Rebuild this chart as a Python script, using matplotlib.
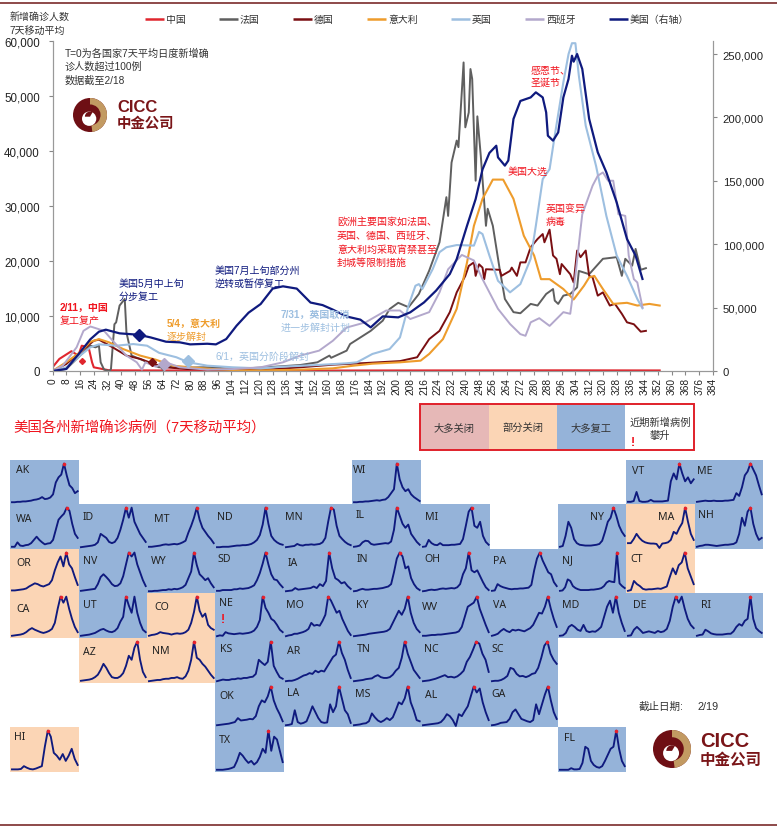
import matplotlib
matplotlib.use("Agg")
import matplotlib.pyplot as plt
from matplotlib.patches import Rectangle, Wedge, Circle
from matplotlib.ticker import FuncFormatter

plt.rcParams["font.family"] = ["Liberation Sans", "Noto Sans CJK SC"]

W, H = 777, 828

# 主图数据：天数 + 7天平均新增（美国为右轴）
CHINA_X = [0, 4, 11, 15, 17, 21, 23, 24, 33, 60, 120, 200, 300, 353]
CHINA_Y = [670, 2200, 3600, 2800, 4600, 4300, 1580, 670, 120, 100, 60, 100, 120, 100]

FRANCE_X = [0, 8, 16, 22, 25, 27, 28, 30, 33, 34, 36, 37, 39, 42, 43, 46, 53, 57, 62, 66, 72, 86, 93, 105, 124, 144,
            154, 161, 162, 171, 173, 179, 185, 192, 196, 201, 207, 213, 219, 225, 229, 230, 232, 235, 236, 239, 240,
            242, 243, 244, 246, 247, 249, 252, 253, 256, 260, 263, 268, 272, 278, 282, 287, 291, 292, 294, 297, 301,
            305, 306, 312, 320, 328, 331, 333, 337, 339, 342, 345]
FRANCE_Y = [0, 360, 2800, 4600, 4300, 4600, 1580, 240, 0, 360, 8500, 8850, 11900, 13100, 7000, 2800, 1900, 1270, 670,
            970, 550, 670, 670, 360, 670, 1090, 1580, 2800, 2400, 3700, 4900, 6100, 7300, 9150, 11270, 12400, 11600,
            14000, 18250, 23400, 31600, 28200, 37900, 41900, 40700, 56100, 44300, 47000, 54900, 53100, 34600, 46300,
            39100, 26400, 29500, 26400, 18500, 13100, 10700, 10500, 12200, 11900, 14000, 14900, 12800, 12200, 13700,
            14000, 15200, 18200, 17600, 20400, 20700, 17300, 20400, 19150, 22200, 18400, 18700]

GERMANY_X = [0, 8, 16, 24, 27, 35, 43, 51, 59, 66, 78, 105, 124, 144, 163, 182, 202, 212, 219, 225, 231, 235, 240, 242,
             245, 246, 248, 250, 251, 252, 260, 261, 266, 267, 270, 272, 275, 278, 282, 285, 286, 289, 291, 293, 295,
             296, 301, 303, 305, 307, 310, 312, 314, 317, 320, 324, 327, 331, 334, 338, 342, 345]
GERMANY_Y = [0, 1270, 3400, 5500, 5700, 4300, 2800, 2200, 1270, 670, 360, 240, 240, 670, 1150, 1450, 1800, 2500, 5800,
             7300, 10700, 14300, 17300, 19100, 19750, 17300, 19400, 18800, 16700, 18500, 18400, 17300, 18200, 18800,
             17300, 19750, 19750, 22500, 24000, 24900, 23400, 25700, 21000, 20400, 17600, 19450, 17600, 16100, 21900,
             20700, 21900, 17300, 17000, 13700, 14300, 11900, 12200, 10400, 8850, 8500, 7150, 7300]

ITALY_X = [0, 8, 16, 22, 27, 33, 41, 51, 60, 70, 80, 93, 109, 124, 144, 163, 175, 186, 202, 214, 219, 227, 235, 241,
           245, 250, 256, 262, 268, 274, 280, 284, 289, 297, 303, 309, 312, 315, 320, 326, 334, 340, 347, 353]
ITALY_Y = [0, 1600, 3400, 5300, 5800, 5200, 4000, 2800, 2060, 970, 670, 360, 120, 120, 240, 480, 970, 1330, 1580, 1880,
           3100, 5800, 11300, 19750, 26400, 31300, 34800, 34800, 31300, 24600, 21000, 16700, 16700, 14900, 13000,
           15500, 17000, 17300, 14900, 12200, 12400, 11900, 12200, 11900]

UK_X = [0, 8, 16, 22, 27, 37, 47, 55, 62, 72, 79, 90, 105, 121, 134, 154, 171, 177, 186, 196, 202, 207, 211, 213, 215,
        221, 225, 229, 235, 245, 248, 250, 254, 259, 266, 272, 278, 281, 285, 289, 292, 297, 300, 302, 304, 306, 310,
        316, 322, 328, 334, 340, 343]
UK_Y = [0, 670, 2800, 4300, 4850, 4600, 4900, 4600, 3300, 2500, 1580, 970, 670, 480, 790, 1090, 1400, 1580, 3100, 4000,
        6100, 11900, 15500, 15800, 14900, 18500, 21600, 22500, 22900, 22800, 25300, 24900, 21000, 16400, 14300, 15800,
        20400, 26400, 34900, 36700, 42800, 52500, 57600, 59600, 59600, 53700, 44600, 37300, 28200, 21000, 17300, 13100,
        11400]

SPAIN_X = [0, 6, 14, 18, 22, 30, 35, 43, 49, 52, 54, 60, 66, 74, 90, 105, 121, 134, 144, 155, 163, 171, 182, 194, 202,
           208, 219, 225, 230, 238, 245, 250, 254, 259, 266, 272, 275, 278, 283, 289, 297, 301, 304, 307, 308, 314, 317,
           320, 323, 326, 329, 333, 335, 338, 340, 343]
SPAIN_Y = [0, 970, 4300, 7300, 8100, 7300, 5500, 2800, 1580, 240, 1580, 790, 1580, 670, 240, 360, 670, 1580, 2800, 3700,
           5500, 7900, 8850, 11000, 11000, 9450, 10700, 14300, 18500, 21100, 20100, 16700, 14300, 11300, 8550, 6700,
           6400, 8850, 9600, 8200, 10700, 10400, 17300, 25800, 28500, 33700, 35500, 36100, 34600, 34600, 28500, 28200,
           21000, 16700, 16100, 11600]

US_X = [0, 8, 16, 22, 27, 31, 39, 50, 57, 66, 74, 80, 90, 95, 101, 107, 114, 121, 128, 134, 142, 150, 157, 163, 171,
        179, 185, 192, 201, 208, 216, 223, 231, 235, 241, 246, 250, 254, 258, 259, 263, 265, 268, 272, 278, 281, 285,
        287, 288, 291, 294, 297, 300, 302, 303, 305, 308, 312, 317, 322, 328, 334, 339, 343]
US_Y = [0, 1600, 14700, 25000, 31000, 32600, 29700, 28600, 26500, 23100, 22600, 21000, 21500, 21000, 25200, 35700,
        46000, 52800, 65000, 66800, 65000, 54000, 52000, 48400, 43000, 40500, 34400, 43100, 42300, 46300, 54100, 63400,
        76500, 88300, 114600, 135600, 159000, 172000, 177700, 168500, 162000, 166000, 198800, 213000, 215800, 219800,
        215800, 204000, 185600, 181700, 188200, 215800, 230300, 248700, 244000, 250000, 238200, 198800, 172500, 156700,
        133000, 104100, 91000, 72600]

# 各国解封节点（菱形）
CHINA_MARK = ([17], [1800])
GERMANY_MARK = ([58], [1640])
FRANCE_MARK = ([64], [670])
SPAIN_MARK = ([65], [1270])
UK_MARK = ([79], [1800])
US_MARK = ([50], [28400])

# 各州曲线（峰值=100）
AK = [2, 2, 3, 3, 4, 4, 5, 6, 8, 9, 11, 15, 10, 11, 14, 22, 52, 65, 72, 100, 70, 45, 38, 25, 30]
WA = [3, 3, 14, 6, 5, 7, 8, 12, 20, 28, 20, 14, 9, 11, 12, 20, 45, 70, 78, 85, 100, 92, 60, 35, 25]
ID = [2, 3, 4, 5, 6, 8, 14, 35, 30, 25, 15, 12, 15, 25, 45, 70, 100, 75, 100, 65, 50, 35, 25, 15]
MT = [3, 3, 4, 5, 6, 8, 9, 8, 9, 10, 9, 11, 14, 18, 38, 55, 75, 100, 70, 50, 40, 30, 22, 12]
ND = [2, 2, 3, 3, 3, 4, 5, 6, 6, 7, 7, 8, 10, 14, 20, 32, 58, 100, 60, 30, 20, 14, 10, 8]
OR = [4, 4, 5, 6, 7, 9, 14, 18, 22, 20, 16, 14, 17, 20, 30, 55, 75, 90, 65, 100, 70, 60, 38, 18]
NV = [3, 4, 5, 6, 7, 8, 20, 38, 45, 38, 30, 20, 15, 16, 22, 40, 70, 100, 90, 100, 70, 50, 30, 15]
WY = [2, 2, 3, 3, 4, 5, 5, 7, 6, 8, 7, 9, 12, 18, 35, 52, 100, 68, 45, 38, 30, 35, 22, 12]
SD = [3, 3, 5, 5, 5, 5, 7, 7, 9, 8, 9, 10, 13, 17, 30, 48, 72, 100, 70, 45, 32, 30, 20, 12]
CA = [3, 4, 5, 6, 8, 12, 18, 22, 18, 15, 12, 10, 12, 15, 20, 35, 70, 100, 85, 100, 70, 45, 25, 12]
UT = [3, 4, 5, 6, 8, 10, 14, 18, 20, 16, 13, 12, 15, 22, 38, 50, 100, 78, 60, 100, 60, 35, 18, 12]
CO = [3, 5, 6, 8, 12, 10, 9, 8, 6, 8, 9, 8, 9, 12, 18, 35, 62, 100, 65, 50, 58, 30, 22, 18]
NE = [2, 4, 3, 12, 9, 8, 7, 8, 9, 8, 9, 10, 12, 16, 25, 42, 100, 72, 60, 45, 40, 30, 18, 12]
MN = [2, 3, 4, 5, 10, 7, 6, 8, 8, 9, 8, 9, 10, 14, 25, 65, 100, 95, 55, 30, 22, 15, 10, 7]
IL = [3, 4, 6, 14, 18, 17, 10, 8, 9, 10, 11, 12, 11, 16, 45, 100, 80, 60, 50, 58, 35, 25, 15, 8]
MI = [3, 4, 20, 12, 8, 7, 12, 7, 7, 7, 8, 8, 9, 10, 22, 55, 90, 100, 55, 50, 65, 30, 15, 8]
WI = [2, 2, 3, 3, 4, 4, 5, 6, 7, 6, 8, 9, 15, 25, 35, 100, 60, 40, 30, 35, 22, 15, 10, 5]
IA = [2, 3, 4, 10, 6, 7, 8, 9, 10, 14, 10, 20, 15, 28, 100, 60, 35, 30, 22, 25, 15, 8]
IN = [2, 3, 6, 8, 6, 6, 7, 8, 8, 9, 10, 12, 14, 20, 50, 85, 100, 90, 60, 65, 35, 20, 10, 5]
OH = [2, 3, 5, 6, 5, 6, 8, 9, 8, 9, 10, 9, 12, 20, 45, 60, 100, 55, 50, 55, 40, 25, 12, 5]
PA = [3, 4, 20, 15, 12, 10, 8, 7, 8, 8, 9, 9, 10, 11, 18, 55, 85, 100, 80, 65, 50, 45, 25, 15]
MO = [2, 4, 5, 8, 8, 10, 12, 15, 20, 35, 28, 30, 28, 40, 55, 100, 90, 75, 60, 65, 45, 30, 15, 5]
KY = [2, 3, 4, 5, 6, 8, 9, 10, 11, 12, 13, 15, 20, 35, 50, 65, 55, 70, 100, 60, 35, 20, 12]
WV = [3, 3, 4, 5, 5, 6, 6, 7, 8, 9, 10, 11, 14, 25, 50, 75, 80, 85, 100, 70, 50, 30, 12]
VA = [3, 5, 8, 15, 20, 15, 12, 18, 16, 18, 16, 14, 18, 22, 30, 45, 60, 58, 75, 100, 70, 45, 25]
NY = [3, 5, 30, 65, 50, 22, 12, 8, 7, 6, 6, 6, 7, 8, 10, 18, 40, 65, 75, 100, 80, 55, 40, 30]
MA = [12, 12, 22, 35, 25, 18, 14, 12, 11, 11, 10, 0, 11, 12, 14, 20, 40, 35, 50, 62, 100, 65, 35, 20]
CT = [3, 5, 28, 20, 15, 8, 6, 7, 7, 8, 9, 8, 11, 14, 38, 60, 45, 68, 75, 100, 60, 40, 20]
NH = [3, 5, 6, 8, 8, 7, 6, 5, 6, 7, 8, 8, 9, 10, 14, 35, 75, 55, 90, 100, 60, 35, 20, 25]
VT = [3, 3, 5, 28, 5, 3, 3, 4, 8, 4, 4, 4, 4, 5, 6, 55, 75, 60, 100, 75, 55, 65, 50, 60]
ME = [3, 4, 5, 6, 5, 5, 6, 5, 5, 5, 6, 6, 7, 8, 25, 18, 40, 70, 80, 100, 85, 70, 45, 22]
NJ = [3, 4, 12, 32, 28, 15, 10, 7, 5, 5, 5, 5, 6, 6, 7, 8, 10, 15, 24, 28, 26, 25, 100, 22, 15, 10]
MD = [3, 4, 10, 25, 30, 25, 18, 15, 30, 15, 12, 14, 13, 18, 25, 50, 75, 90, 60, 100, 60, 35, 15]
DE = [3, 4, 18, 25, 18, 10, 12, 14, 12, 10, 15, 12, 14, 20, 40, 75, 100, 85, 100, 70, 45, 30, 22]
RI = [3, 5, 6, 18, 14, 9, 7, 6, 6, 6, 7, 8, 8, 14, 25, 32, 28, 40, 45, 100, 45, 22, 15, 10]
AZ = [3, 4, 5, 6, 8, 12, 18, 30, 45, 35, 22, 12, 10, 10, 14, 22, 40, 65, 55, 85, 100, 55, 25, 12]
NM = [2, 3, 4, 5, 5, 7, 8, 8, 10, 10, 12, 9, 8, 14, 28, 55, 100, 60, 55, 45, 38, 28, 18, 10]
KS = [2, 4, 6, 5, 5, 7, 7, 9, 8, 10, 10, 12, 13, 20, 55, 48, 42, 50, 100, 40, 25, 12, 8]
AR = [2, 3, 3, 5, 8, 12, 16, 18, 22, 20, 28, 24, 28, 26, 38, 50, 62, 68, 100, 72, 55, 30, 10]
TN = [2, 3, 4, 5, 7, 8, 9, 14, 17, 12, 10, 10, 12, 18, 28, 35, 60, 100, 70, 50, 30, 20, 10]
NC = [2, 3, 4, 6, 8, 11, 14, 17, 12, 13, 11, 14, 20, 28, 50, 62, 80, 100, 95, 70, 55, 25]
SC = [2, 3, 3, 5, 9, 15, 35, 32, 20, 14, 15, 12, 15, 20, 22, 35, 60, 90, 100, 70, 55, 45]
OK = [2, 3, 4, 5, 6, 8, 10, 20, 14, 15, 16, 18, 17, 25, 50, 65, 60, 75, 100, 65, 45, 30, 12]
LA = [2, 3, 5, 40, 10, 6, 8, 12, 30, 50, 35, 20, 10, 8, 9, 55, 35, 50, 100, 70, 40, 30, 8]
MS = [2, 3, 4, 6, 7, 12, 32, 22, 14, 10, 14, 20, 15, 22, 40, 60, 55, 70, 100, 60, 40, 15, 12]
AL = [2, 3, 4, 5, 6, 7, 10, 18, 30, 25, 15, 0, 30, 25, 38, 50, 75, 100, 85, 95, 60, 35, 15]
GA = [2, 3, 5, 8, 9, 10, 18, 35, 42, 30, 18, 15, 12, 10, 15, 55, 30, 55, 80, 100, 65, 35, 18]
TX = [3, 3, 3, 4, 5, 7, 10, 25, 45, 38, 28, 20, 25, 16, 22, 35, 55, 45, 100, 50, 85, 78, 50, 22]
HI = [4, 4, 4, 5, 12, 8, 5, 4, 6, 9, 12, 60, 100, 85, 45, 38, 28, 42, 25, 38, 55, 30, 15]
FL = [3, 3, 3, 3, 7, 4, 4, 5, 20, 60, 55, 25, 15, 10, 8, 12, 25, 40, 55, 60, 100, 55, 25, 12]

BLUE = "#95b3d9"
PEACH = "#fbd5b5"
PINK = "#e6b8b7"
RED = "#f0141e"
NAVY = "#0f1a7e"
ORANGE = "#ee9c2c"
LBLUE = "#9dbfe0"
LILAC = "#b3a8cc"
DRED = "#7a0f12"
GRAY = "#5f5f5f"
LOGO_RED = "#6e0f14"
LOGO_TAN = "#c29a62"

COLS = [10, 79, 147, 215, 284, 352, 421, 490, 558, 626, 695, 763]
ROWS = [461, 505, 550, 594, 639, 684, 728, 773]

# 名称, 曲线, 列, 行, 标签dx, 标签dy, 底色
PANELS = [
    ("AK", AK, 0, 0, 6, 10, BLUE), ("WI", WI, 5, 0, 1, 10, BLUE), ("VT", VT, 9, 0, 6, 11, BLUE),
    ("ME", ME, 10, 0, 2, 11, BLUE),
    ("WA", WA, 0, 1, 6, 14, BLUE), ("ID", ID, 1, 1, 4, 13, BLUE), ("MT", MT, 2, 1, 7, 15, BLUE),
    ("ND", ND, 3, 1, 2, 12, BLUE), ("MN", MN, 4, 1, 1, 13, BLUE), ("IL", IL, 5, 1, 4, 11, BLUE),
    ("MI", MI, 6, 1, 4, 13, BLUE), ("NY", NY, 8, 1, 32, 13, BLUE), ("MA", MA, 9, 1, 32, 12, PEACH),
    ("NH", NH, 10, 1, 3, 11, BLUE),
    ("OR", OR, 0, 2, 6, 14, PEACH), ("NV", NV, 1, 2, 4, 11, BLUE), ("WY", WY, 2, 2, 4, 12, BLUE),
    ("SD", SD, 3, 2, 3, 10, BLUE), ("IA", IA, 4, 2, 4, 13, BLUE), ("IN", IN, 5, 2, 5, 10, BLUE),
    ("OH", OH, 6, 2, 3, 10, BLUE), ("PA", PA, 7, 2, 3, 12, BLUE), ("NJ", NJ, 8, 2, 4, 11, BLUE),
    ("CT", CT, 9, 2, 4, 10, PEACH),
    ("CA", CA, 0, 3, 6, 16, PEACH), ("UT", UT, 1, 3, 4, 12, BLUE), ("CO", CO, 2, 3, 7, 14, PEACH),
    ("NE", NE, 3, 3, 4, 10, BLUE), ("MO", MO, 4, 3, 2, 11, BLUE), ("KY", KY, 5, 3, 4, 11, BLUE),
    ("WV", WV, 6, 3, 1, 14, BLUE), ("VA", VA, 7, 3, 3, 11, BLUE), ("MD", MD, 8, 3, 4, 12, BLUE),
    ("DE", DE, 9, 3, 7, 12, BLUE), ("RI", RI, 10, 3, 6, 12, BLUE),
    ("AZ", AZ, 1, 4, 4, 14, PEACH), ("NM", NM, 2, 4, 5, 12, PEACH), ("KS", KS, 3, 4, 5, 10, BLUE),
    ("AR", AR, 4, 4, 3, 12, BLUE), ("TN", TN, 5, 4, 5, 10, BLUE), ("NC", NC, 6, 4, 3, 11, BLUE),
    ("SC", SC, 7, 4, 1, 11, BLUE),
    ("OK", OK, 3, 5, 4, 13, BLUE), ("LA", LA, 4, 5, 3, 10, BLUE), ("MS", MS, 5, 5, 3, 11, BLUE),
    ("AL", AL, 6, 5, 4, 12, BLUE), ("GA", GA, 7, 5, 1, 11, BLUE),
    ("HI", HI, 0, 6, 4, 10, PEACH), ("TX", TX, 3, 6, 4, 13, BLUE), ("FL", FL, 8, 6, 6, 11, BLUE),
]


def box(left, top, right, bottom):
    return [left / W, 1 - bottom / H, (right - left) / W, (bottom - top) / H]


def label(x, y, s, size=7.2, color="#333333", ha="left", **kw):
    fig.text(x / W, 1 - y / H, s, fontsize=size, color=color, ha=ha, va="center", **kw)


def logo(x, y, r, tx, ty1, ty2, s1, s2):
    ov.add_patch(Circle((x, y), r, color=LOGO_RED, lw=0))
    ov.add_patch(Wedge((x, y), r, -90, 82, color=LOGO_TAN, lw=0))
    ov.add_patch(Wedge((x, y), r * 0.62, -90, 82, color=LOGO_RED, lw=0))
    ov.add_patch(Circle((x - r * 0.05, y + r * 0.22), r * 0.42, color="white", lw=0))
    ov.add_patch(Wedge((x, y + r * 0.1), r * 0.3, 180, 300, color=LOGO_RED, lw=0))
    label(tx, ty1, "CICC", size=s1, color="#7a1518", fontweight="bold")
    label(tx, ty2, "中金公司", size=s2, color="#7a1518", fontweight="bold")


fig = plt.figure(figsize=(W / 100, H / 100), dpi=100, facecolor="white")

# 主图
ax = fig.add_axes(box(52.5, 42, 713, 372))
ax.patch.set_visible(False)
ax.plot(CHINA_X, CHINA_Y, color="#e0262e", lw=1.5)
ax.plot(FRANCE_X, FRANCE_Y, color=GRAY, lw=1.4)
ax.plot(GERMANY_X, GERMANY_Y, color=DRED, lw=1.4)
ax.plot(ITALY_X, ITALY_Y, color=ORANGE, lw=1.5)
ax.plot(UK_X, UK_Y, color=LBLUE, lw=1.5)
ax.plot(SPAIN_X, SPAIN_Y, color=LILAC, lw=1.4)
ax.plot(*CHINA_MARK, "D", color="#e0262e", ms=3)
ax.plot(*GERMANY_MARK, "D", color=DRED, ms=4.5)
ax.plot(*FRANCE_MARK, "D", color=GRAY, ms=3)
ax.plot(*SPAIN_MARK, "D", color=LILAC, ms=6)
ax.plot(*UK_MARK, "D", color=LBLUE, ms=6)
ax.set_xlim(0, 384)
ax.set_ylim(0, 60000)
ax.set_xticks(range(0, 385, 8))
ax.set_yticks(range(0, 60001, 10000))
ax.yaxis.set_major_formatter(FuncFormatter(lambda v, _: f"{int(v):,}"))
ax.tick_params(axis="y", labelsize=8.3, length=3, color="#888888", pad=6, labelcolor="#222222")
ax.tick_params(axis="x", labelsize=7.3, length=3, color="#888888", pad=1.5, labelrotation=90, labelcolor="#222222")

ax2 = ax.twinx()
ax2.plot(US_X, US_Y, color=NAVY, lw=1.6)
ax2.plot(*US_MARK, "D", color=NAVY, ms=6)
ax2.set_ylim(0, 260300)
ax2.set_yticks(range(0, 250001, 50000))
ax2.yaxis.set_major_formatter(FuncFormatter(lambda v, _: f"{int(v):,}"))
ax2.tick_params(axis="y", labelsize=8.1, length=3, color="#888888", pad=4, labelcolor="#222222")
for a in (ax, ax2):
    a.spines["top"].set_visible(False)
    for s in ("left", "right", "bottom"):
        a.spines[s].set_color("#999999")
        a.spines[s].set_linewidth(0.8)

# 覆盖层，坐标就是像素
ov = fig.add_axes([0, 0, 1, 1], zorder=1)
ov.set_xlim(0, W)
ov.set_ylim(H, 0)
ov.axis("off")
ov.plot([0, W], [4, 4], color="#7a2a2a", lw=1.2)
ov.plot([0, W], [826.5, 826.5], color="#7a2a2a", lw=1.2)

legend_items = [("中国", "#e0262e", 145), ("法国", GRAY, 219), ("德国", DRED, 293), ("意大利", ORANGE, 367),
                ("英国", LBLUE, 451), ("西班牙", LILAC, 525), ("美国（右轴）", NAVY, 609)]
for name, c, x0 in legend_items:
    ov.plot([x0, x0 + 19], [19.5, 19.5], color=c, lw=1.8, solid_capstyle="butt")
    label(x0 + 21, 19.5, name, size=7.1)
label(10, 17, "新增确诊人数", size=7.2)
label(10, 31, "7天移动平均", size=7.2)

label(65, 54, "T=0为各国家7天平均日度新增确", size=7.3)
label(65, 67, "诊人数超过100例", size=7.3)
label(65, 81, "数据截至2/18", size=7.3)

label(531, 71, "感恩节、", color=RED)
label(531, 83, "圣诞节", color=RED)
label(508, 172, "美国大选", color=RED)
label(545.5, 209, "英国变异", color=RED)
label(545.5, 222, "病毒", color=RED)
label(337, 223, "欧洲主要国家如法国、", color=RED)
label(337, 236, "英国、德国、西班牙、", color=RED)
label(337, 250, "意大利均采取宵禁甚至", color=RED)
label(337, 263, "封城等限制措施", color=RED)
label(60, 308, "2/11，中国", color=RED, fontweight="bold")
label(60, 321, "复工复产", color=RED)
label(119, 284, "美国5月中上旬", color=NAVY)
label(119, 297, "分步复工", color=NAVY)
label(215, 271, "美国7月上旬部分州", color=NAVY)
label(215, 284, "逆转或暂停复工", color=NAVY)
label(167, 324, "5/4，意大利", color=ORANGE, fontweight="bold")
label(167, 337, "逐步解封", color=ORANGE)
label(281, 315, "7/31，英国取消", color=LBLUE, fontweight="bold")
label(281, 328, "进一步解封计划", color=LBLUE)
label(215, 357, "6/1，英国分阶段解封", color=LBLUE)

logo(90, 116, 17, 117, 108, 124, 12, 10.4)
logo(672, 750, 19, 700, 742, 760, 14.5, 11.2)

# 分区标题和图例框
label(13, 429, "美国各州新增确诊病例（7天移动平均）", size=10.4, color=RED)
for x0, x1, c in [(420, 489, PINK), (489, 557, PEACH), (557, 625, BLUE), (625, 694, "white")]:
    ov.add_patch(Rectangle((x0, 405), x1 - x0, 46, facecolor=c, edgecolor="none"))
ov.add_patch(Rectangle((420, 405), 274, 46, facecolor="none", edgecolor="#e0202a", lw=1.4))
label(454, 429, "大多关闭", size=7.4, ha="center")
label(523, 429, "部分关闭", size=7.4, ha="center")
label(591, 429, "大多复工", size=7.4, ha="center")
label(660, 423, "近期新增病例", size=7.4, ha="center")
label(660, 436, "攀升", size=7.4, ha="center")
label(632.5, 443, "!", size=9, color=RED, ha="center", fontweight="bold")

# 各州小图
for code, vals, col, row, dx, dy, bg in PANELS:
    left, right = COLS[col], COLS[col + 1]
    top, bottom = ROWS[row], ROWS[row + 1]
    pa = fig.add_axes(box(left, top, right, bottom), facecolor=bg)
    xs = [i / (len(vals) - 1) for i in range(len(vals))]
    pa.plot(xs, vals, color=NAVY, lw=1.35, solid_joinstyle="round")
    pk = vals.index(max(vals))
    pa.plot(xs[pk], vals[pk], "o", color="#e8202a", ms=2.6, mew=0)
    pa.set_xlim(-0.03, 1.02)
    pa.set_ylim(-2.5, 109)
    pa.set_xticks([])
    pa.set_yticks([])
    for s in pa.spines.values():
        s.set_visible(False)
    label(left + dx, top + dy, code, size=7.6, color="#222222", family="Noto Sans")

label(223, 620, "!", size=9, color=RED, ha="center", fontweight="bold")
label(639, 707, "截止日期:", size=7.6)
label(697, 707, "2/19", size=7.8)

fig.savefig("out.png", dpi=100)
